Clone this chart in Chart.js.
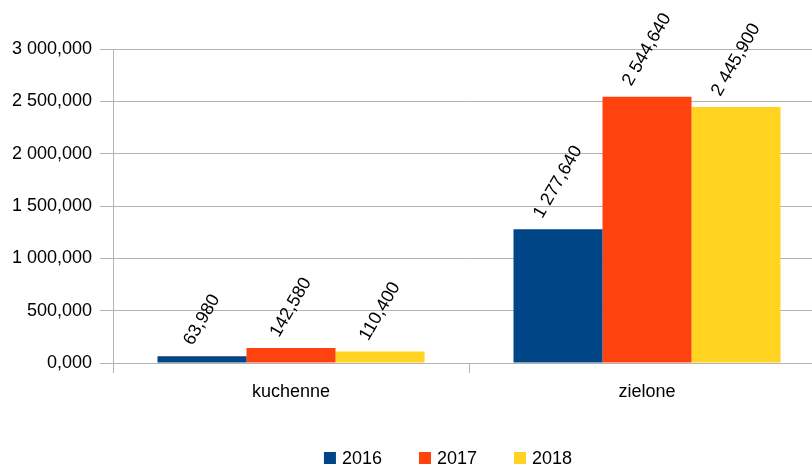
<!DOCTYPE html>
<html>
<head>
<meta charset="utf-8">
<script src="https://cdn.jsdelivr.net/npm/chart.js@4"></script>
<style>
  html, body { margin: 0; padding: 0; overflow: hidden; background: #fff; }
  #wrap { width: 825px; height: 466px; position: relative; }
</style>
</head>
<body>
<div id="wrap"><canvas id="chart"></canvas></div>
<script>
const categories = ["kuchenne", "zielone"];
const years = ["2016", "2017", "2018"];
const values2016 = [63.98, 1277.64];
const values2017 = [142.58, 2544.64];
const values2018 = [110.4, 2445.9];
const colors = ["#004586", "#ff420e", "#ffd320"];

const FONT = "'Liberation Sans', Arial, sans-serif";
const GRID = "#b3b3b3";

// polish style: space for thousands, comma for decimals
function fmt(v) {
  const parts = v.toFixed(3).split(".");
  return parts[0].replace(/\B(?=(\d{3})+(?!\d))/g, " ") + "," + parts[1];
}

// rotated value labels above each bar
const barLabels = {
  id: "barLabels",
  afterDatasetsDraw(chart) {
    const ctx = chart.ctx;
    const ang = 60 * Math.PI / 180;
    ctx.save();
    ctx.font = "18px " + FONT;
    ctx.fillStyle = "#000";
    ctx.textAlign = "center";
    ctx.textBaseline = "middle";
    chart.data.datasets.forEach((ds, i) => {
      chart.getDatasetMeta(i).data.forEach((bar, j) => {
        const txt = fmt(ds.data[j]);
        const w = ctx.measureText(txt).width;
        const half = w / 2 * Math.sin(ang) + 9 * Math.cos(ang);
        ctx.save();
        ctx.translate(bar.x, bar.y - 8 - half);
        ctx.rotate(-ang);
        ctx.fillText(txt, 0, 0);
        ctx.restore();
      });
    });
    ctx.restore();
  }
};

// legend drawn at the bottom, slightly right of centre like the original
const bottomLegend = {
  id: "bottomLegend",
  afterDraw(chart) {
    const ctx = chart.ctx;
    const centerX = 448, midY = 458, box = 12, gap = 6, spacing = 37;
    ctx.save();
    ctx.font = "18px " + FONT;
    ctx.textBaseline = "middle";
    ctx.textAlign = "left";
    const items = chart.data.datasets.map(ds => ({
      text: ds.label, color: ds.backgroundColor, w: ctx.measureText(ds.label).width
    }));
    const total = items.reduce((s, it) => s + box + gap + it.w, 0) + spacing * (items.length - 1);
    let x = centerX - total / 2;
    items.forEach(it => {
      ctx.fillStyle = it.color;
      ctx.fillRect(x, midY - box / 2, box, box);
      ctx.fillStyle = "#000";
      ctx.fillText(it.text, x + box + gap, midY + 1);
      x += box + gap + it.w + spacing;
    });
    ctx.restore();
  }
};

new Chart(document.getElementById("chart"), {
  type: "bar",
  data: {
    labels: categories,
    datasets: [
      { label: years[0], data: values2016, backgroundColor: colors[0] },
      { label: years[1], data: values2017, backgroundColor: colors[1] },
      { label: years[2], data: values2018, backgroundColor: colors[2] }
    ]
  },
  options: {
    responsive: true,
    maintainAspectRatio: false,
    animation: false,
    layout: { padding: { top: 49, left: 0, right: 0, bottom: 0 } },
    datasets: { bar: { barPercentage: 1, categoryPercentage: 0.75, borderWidth: 0 } },
    plugins: {
      legend: { display: false },
      tooltip: { enabled: false }
    },
    scales: {
      x: {
        grid: { display: true, drawOnChartArea: false, offset: true, tickLength: 10, color: GRID },
        border: { color: GRID },
        ticks: { font: { family: FONT, size: 18 }, color: "#000", padding: 8 },
        afterFit(scale) { scale.height = 103; }
      },
      y: {
        min: 0,
        max: 3000,
        grid: { color: GRID, tickLength: 13 },
        border: { color: GRID },
        ticks: {
          stepSize: 500,
          font: { family: FONT, size: 18 },
          color: "#000",
          padding: 8,
          callback: v => fmt(v)
        },
        afterFit(scale) { scale.width = 113; }
      }
    }
  },
  plugins: [barLabels, bottomLegend]
});
</script>
</body>
</html>
